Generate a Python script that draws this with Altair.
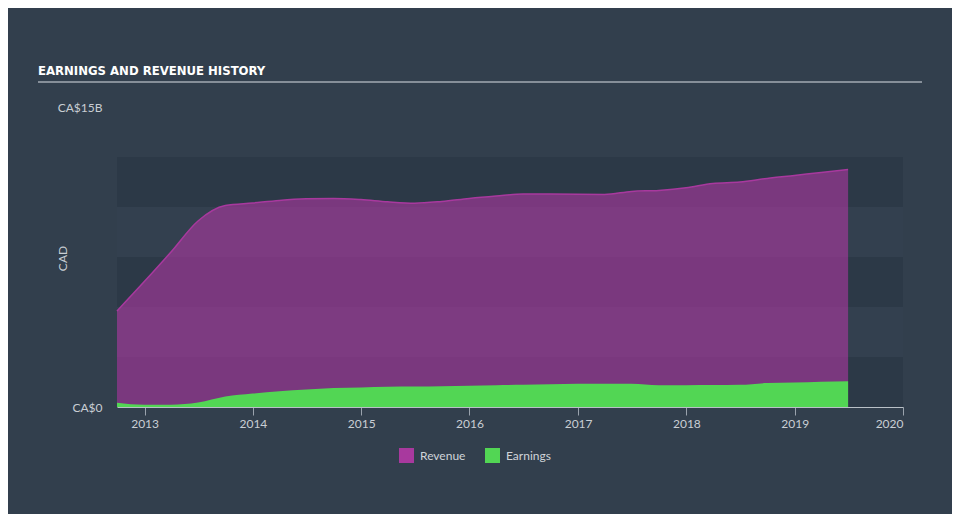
import altair as alt
import pandas as pd

quarters = [
    "2012-09-30", "2012-12-31", "2013-03-31", "2013-06-30",
    "2013-09-30", "2013-12-31", "2014-03-31", "2014-06-30",
    "2014-09-30", "2014-12-31", "2015-03-31", "2015-06-30",
    "2015-09-30", "2015-12-31", "2016-03-31", "2016-06-30",
    "2016-09-30", "2016-12-31", "2017-03-31", "2017-06-30",
    "2017-09-30", "2017-12-31", "2018-03-31", "2018-06-30",
    "2018-09-30", "2018-12-31", "2019-03-31", "2019-06-30",
]
# CAD billions
revenue = [4.8, 6.27, 7.75, 9.3, 10.07, 10.2, 10.33, 10.41, 10.43, 10.37, 10.26, 10.19,
           10.28, 10.43, 10.55, 10.65, 10.65, 10.64, 10.63, 10.78, 10.83, 10.96, 11.18,
           11.25, 11.43, 11.58, 11.73, 11.88]
earnings = [0.21, 0.11, 0.115, 0.22, 0.52, 0.67, 0.79, 0.87, 0.95, 0.98, 1.01, 1.02,
            1.04, 1.06, 1.09, 1.11, 1.14, 1.16, 1.16, 1.16, 1.09, 1.09, 1.10, 1.11,
            1.20, 1.22, 1.26, 1.29]
series_names = ["Revenue", "Earnings"]
series_colors = ["#a8399e", "#52d654"]
y_ticks = [0, 15]
x_years = list(range(2013, 2021))
dark_lo = [0, 5, 10]
dark_hi = [2.5, 7.5, 12.5]
light_lo = [2.5, 7.5]
light_hi = [5, 10]
title_text = "EARNINGS AND REVENUE HISTORY"

W, H = 786, 300
BG = "#323f4d"
FONT = "Lato"

dates = pd.to_datetime(quarters)
df_rev = pd.DataFrame({"date": dates, "value": revenue, "series": "Revenue"})
df_earn = pd.DataFrame({"date": dates, "value": earnings, "series": "Earnings"})
df_dark = pd.DataFrame({"lo": dark_lo, "hi": dark_hi})
df_light = pd.DataFrame({"lo": light_lo, "hi": light_hi})
df_title = pd.DataFrame({"t": [title_text]})

x_scale = alt.Scale(domain=[alt.DateTime(year=2012, month=9, date=30),
                            alt.DateTime(year=2020, month=1, date=1)])
y_scale = alt.Scale(domain=[0, 15], nice=False)

x_axis = alt.Axis(
    values=[alt.DateTime(year=y, month=1, date=1) for y in x_years],
    format="%Y", title=None, grid=False,
    domainColor="#b9c0c7", domainWidth=1,
    tickColor="#9aa3ad", tickSize=8, tickWidth=1,
    labelColor="#c9ced4", labelFontSize=12, labelFont=FONT, labelPadding=3,
)
y_axis = alt.Axis(
    values=y_ticks, grid=False, domain=False, ticks=False,
    labelExpr="datum.value == 0 ? 'CA$0' : 'CA$' + datum.value + 'B'",
    labelColor="#c9ced4", labelFontSize=12, labelFont=FONT, labelPadding=15,
    title="CAD", titleColor="#c9ced4", titleFontSize=12, titleFont=FONT,
    titleFontWeight="normal", titleX=-55, titleY=151, titleAngle=270,
    titleAlign="center", titleBaseline="middle",
)
color_scale = alt.Scale(domain=series_names, range=series_colors)
legend = alt.Legend(
    title=None, orient="none", legendX=282, legendY=341, direction="horizontal",
    symbolType="square", symbolSize=225, symbolOpacity=1, symbolStrokeWidth=0,
    labelColor="#d0d4d9", labelFontSize=12, labelFont=FONT, columnPadding=19,
    labelOffset=6,
)

dark = alt.Chart(df_dark).mark_rect(color="#2c3947").encode(
    x=alt.value(0), x2=alt.value(W),
    y=alt.Y("lo:Q", scale=y_scale, axis=y_axis), y2="hi:Q",
)
light = alt.Chart(df_light).mark_rect(color="#33404f").encode(
    x=alt.value(0), x2=alt.value(W),
    y=alt.Y("lo:Q", scale=y_scale, axis=y_axis), y2="hi:Q",
)

rev = alt.Chart(df_rev).mark_area(
    interpolate="monotone", fillOpacity=0.64,
    line={"color": "#b8409f", "strokeWidth": 1.5},
).encode(
    x=alt.X("date:T", scale=x_scale, axis=x_axis),
    y=alt.Y("value:Q", scale=y_scale, axis=y_axis, stack=None),
    color=alt.Color("series:N", scale=color_scale, legend=legend),
)
earn = alt.Chart(df_earn).mark_area(interpolate="monotone", fillOpacity=1).encode(
    x=alt.X("date:T", scale=x_scale, axis=x_axis),
    y=alt.Y("value:Q", scale=y_scale, axis=y_axis, stack=None),
    color=alt.Color("series:N", scale=color_scale, legend=legend),
)

title = alt.Chart(df_title).mark_text(
    align="left", baseline="alphabetic",
    font="DejaVu Sans Condensed, Roboto Condensed, Roboto, sans-serif",
    fontWeight="bold", fontSize=13, color="#ffffff",
).encode(x=alt.value(-79), y=alt.value(-32), text="t:N")

rule = alt.Chart(df_title).mark_rule(color="#a3abb3", strokeWidth=1.5).encode(
    x=alt.value(-79), x2=alt.value(805), y=alt.value(-25),
)

chart = alt.layer(dark, light, rev, earn, title, rule).properties(
    width=W, height=H,
    autosize=alt.AutoSizeParams(type="none"),
    padding={"left": 109, "top": 99, "right": 49, "bottom": 107},
    background=BG,
).configure_view(stroke=None)

chart.save("out.html", embed_options={"renderer": "svg", "actions": False})
